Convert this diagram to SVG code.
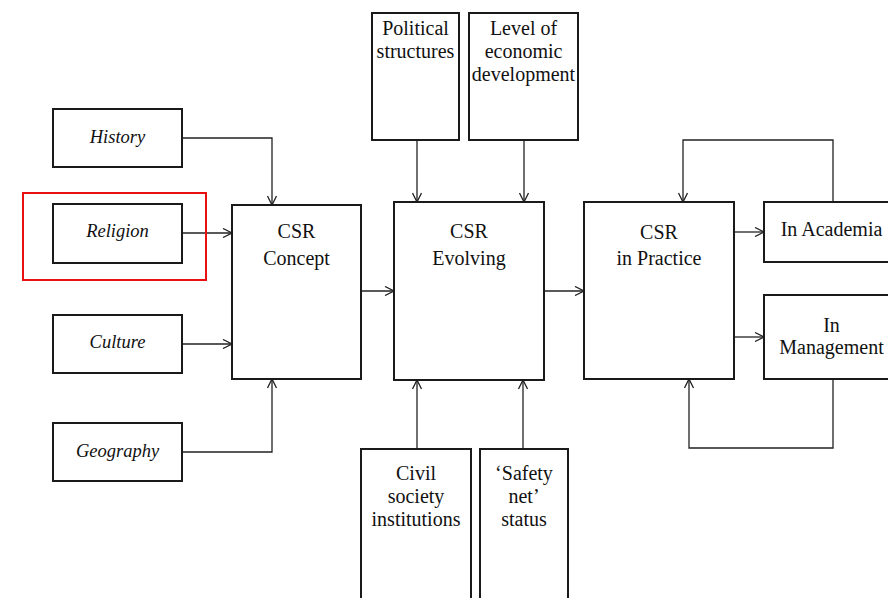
<svg xmlns="http://www.w3.org/2000/svg" width="888" height="598" viewBox="0 0 888 598">
<style>
.box{fill:#fff;stroke:#1a1a1a;stroke-width:2}
.t{font-family:"Liberation Serif","Times New Roman",serif;font-size:20px;fill:#111;text-anchor:middle}
.i{font-style:italic;font-size:18.5px}
.c{fill:none;stroke:#222;stroke-width:1.3;marker-end:url(#ah)}
</style>
<defs>
<marker id="ah" viewBox="0 0 10 10" refX="10" refY="5" markerWidth="10" markerHeight="10" markerUnits="userSpaceOnUse" orient="auto">
<path d="M1,0.5 L10,5 L1,9.5" fill="none" stroke="#222" stroke-width="1.3"/>
</marker>
</defs>
<rect width="888" height="598" fill="#fff"/>
<g id="connectors">
<path class="c" d="M182,138 H272 V205"/>
<path class="c" d="M182,233 H232"/>
<path class="c" d="M182,344 H232"/>
<path class="c" d="M182,452 H272 V379"/>
<path class="c" d="M361,291 H394"/>
<path class="c" d="M417,140 V202"/>
<path class="c" d="M524,140 V202"/>
<path class="c" d="M417,449 V380"/>
<path class="c" d="M523,449 V380"/>
<path class="c" d="M544,291 H584"/>
<path class="c" d="M734,232 H764"/>
<path class="c" d="M734,337 H764"/>
<path class="c" d="M833,202 V140 H683 V202"/>
<path class="c" d="M833,379 V448 H689 V379"/>
</g>
<g id="history"><rect class="box" x="53" y="109" width="129" height="58"/><text class="t i" x="117.5" y="143">History</text></g>
<g id="religion"><rect class="box" x="53" y="204" width="129" height="59"/><text class="t i" x="117.5" y="237">Religion</text></g>
<g id="highlight"><rect x="23" y="193" width="183" height="87" fill="none" stroke="#e81010" stroke-width="2"/></g>
<g id="culture"><rect class="box" x="53" y="315" width="129" height="58"/><text class="t i" x="117.5" y="348">Culture</text></g>
<g id="geography"><rect class="box" x="53" y="423" width="129" height="58"/><text class="t i" x="117.5" y="457">Geography</text></g>
<g id="csr-concept"><rect class="box" x="232" y="205" width="129" height="174"/><text class="t" x="296.5" y="238">CSR</text><text class="t" x="296.5" y="265">Concept</text></g>
<g id="csr-evolving"><rect class="box" x="394" y="202" width="150" height="178"/><text class="t" x="469" y="238">CSR</text><text class="t" x="469" y="265">Evolving</text></g>
<g id="political"><rect class="box" x="372" y="13" width="87" height="127"/><text class="t" x="415.5" y="35">Political</text><text class="t" x="415.5" y="58">structures</text></g>
<g id="economic"><rect class="box" x="469" y="13" width="109" height="127"/><text class="t" x="523.5" y="35">Level of</text><text class="t" x="523.5" y="58">economic</text><text class="t" x="523.5" y="81">development</text></g>
<g id="civil"><rect class="box" x="361" y="449" width="110" height="160"/><text class="t" x="416" y="480">Civil</text><text class="t" x="416" y="503">society</text><text class="t" x="416" y="526">institutions</text></g>
<g id="safety"><rect class="box" x="480" y="449" width="88" height="160"/><text class="t" x="524" y="480">‘Safety</text><text class="t" x="524" y="503">net’</text><text class="t" x="524" y="526">status</text></g>
<g id="csr-practice"><rect class="box" x="584" y="202" width="150" height="177"/><text class="t" x="659" y="239">CSR</text><text class="t" x="659" y="265">in Practice</text></g>
<g id="academia"><rect class="box" x="764" y="202" width="140" height="60"/><text class="t" x="831.5" y="236">In Academia</text></g>
<g id="management"><rect class="box" x="764" y="295" width="140" height="84"/><text class="t" x="831.5" y="332">In</text><text class="t" x="831.5" y="354">Management</text></g>
</svg>
